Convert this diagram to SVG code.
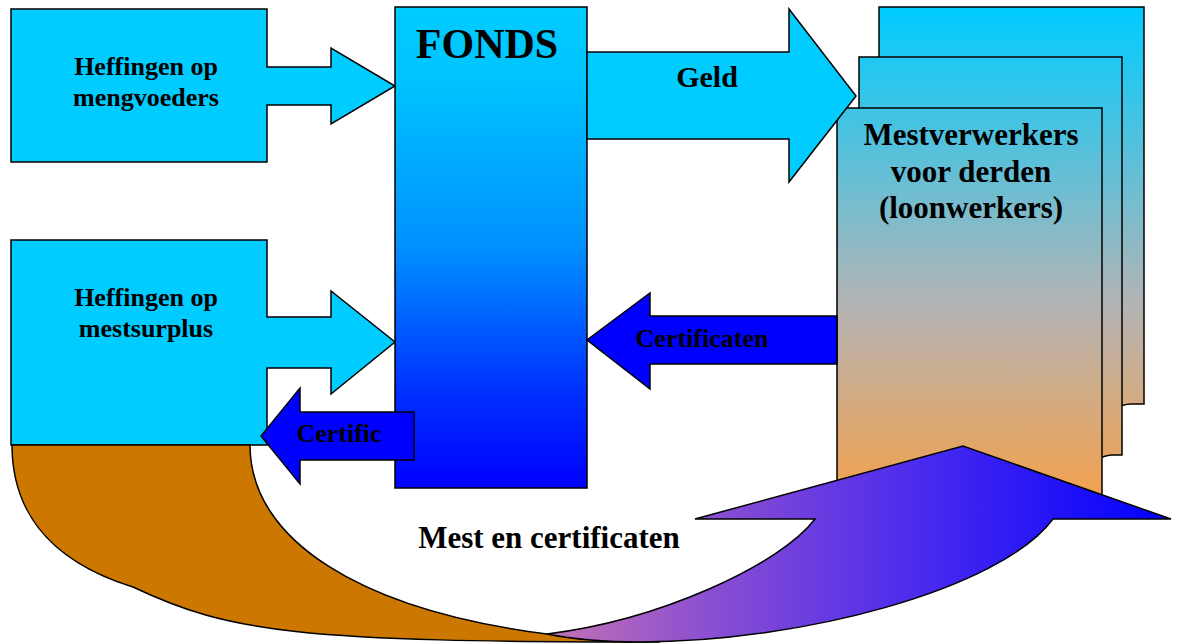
<svg xmlns="http://www.w3.org/2000/svg" width="1180" height="644" viewBox="0 0 1180 644">
  <defs>
    <linearGradient id="fondsFill" gradientUnits="userSpaceOnUse" x1="0" y1="7" x2="0" y2="488">
      <stop offset="0" stop-color="#00CCFF"/>
      <stop offset="0.15" stop-color="#00C4FF"/>
      <stop offset="0.5" stop-color="#0090FF"/>
      <stop offset="0.8" stop-color="#0030FF"/>
      <stop offset="1" stop-color="#0000FF"/>
    </linearGradient>
    <linearGradient id="pageFill" gradientUnits="userSpaceOnUse" x1="0" y1="7" x2="0" y2="505">
      <stop offset="0" stop-color="#00CCFF"/>
      <stop offset="0.6" stop-color="#B4B4B4"/>
      <stop offset="1" stop-color="#F5A04A"/>
    </linearGradient>
    <linearGradient id="returnFill" gradientUnits="userSpaceOnUse" x1="547" y1="0" x2="1171" y2="0">
      <stop offset="0" stop-color="#C472B4"/>
      <stop offset="0.25" stop-color="#8C50D0"/>
      <stop offset="0.6" stop-color="#4A2AEE"/>
      <stop offset="1" stop-color="#0000FF"/>
    </linearGradient>
  </defs>
  <style>
    .shape { stroke: #000; stroke-width: 1.5; stroke-linejoin: miter; }
    .cyan { fill: #00CCFF; }
    .blue { fill: #0000FF; }
    .lbl { font-family: "Liberation Serif", "Times New Roman", serif; font-weight: bold; fill: #000; text-anchor: middle; }
  </style>

  <!-- levy sources (box with arrow callout) -->
  <g id="heffingen-mengvoeders">
    <path class="shape cyan" d="M11,9 H267 V67 H331 V48 L395,86 L331,124 V105 H267 V162 H11 Z"/>
    <text class="lbl" x="146" y="75" font-size="26">Heffingen op</text>
    <text class="lbl" x="146" y="106" font-size="26">mengvoeders</text>
  </g>

  <g id="heffingen-mestsurplus">
    <path class="shape cyan" d="M11,240 H267 V317 H331 V291 L395,342 L331,394 V368 H267 V445 H11 Z"/>
    <text class="lbl" x="146" y="306" font-size="26">Heffingen op</text>
    <text class="lbl" x="146" y="337" font-size="26">mestsurplus</text>
  </g>

  <!-- central fund -->
  <g id="fonds">
    <rect class="shape" x="395" y="7" width="192" height="481" fill="url(#fondsFill)"/>
    <text class="lbl" x="487" y="58" font-size="42">FONDS</text>
  </g>

  <!-- processors: stacked documents -->
  <g id="mestverwerkers">
    <path class="shape" fill="url(#pageFill)" d="M879,7 H1144 V404 H1131 C1127,404 1124,405 1120,406 H879 Z"/>
    <path class="shape" fill="url(#pageFill)" d="M859,57 H1122 V455 H1112 C1108,455 1105,456 1100,458 H859 Z"/>
    <path class="shape" fill="url(#pageFill)" d="M837,108 H1102 V505 H837 Z"/>
    <text class="lbl" x="971" y="145" font-size="31">Mestverwerkers</text>
    <text class="lbl" x="971" y="182" font-size="31">voor derden</text>
    <text class="lbl" x="971" y="218" font-size="31">(loonwerkers)</text>
  </g>

  <!-- flows between the parties -->
  <g id="connectors">
    <g id="geld">
      <path class="shape cyan" d="M587,52 H789 V9 L856,96 L789,182 V139 H587 Z"/>
      <text class="lbl" x="707" y="87" font-size="30">Geld</text>
    </g>
    <g id="certificaten">
      <path class="shape blue" d="M837,316 H650 V293 L587,340 L650,389 V364 H837 Z"/>
      <text class="lbl" x="702" y="347" font-size="26">Certificaten</text>
    </g>
    <g id="certific">
      <path class="shape blue" d="M414,412 H300 V388 L261,436 L300,484 V460 H414 Z"/>
      <text class="lbl" x="339" y="442" font-size="26">Certific</text>
    </g>
    <g id="mest-en-certificaten">
      <!-- darker underside of the curved arrow -->
      <path class="shape" fill="#CC7700" d="M12,445 C12,505 43,559 133,587 C230,633 300,642 660,642 L547,634 C360,610 250,540 250,445 Z"/>
      <!-- front face of the curved arrow with head -->
      <path class="shape" fill="url(#returnFill)" d="M547,634 C660,620 780,565 815,519 L695,519 L963,446 L1171,519 L1053,519 C1000,590 800,642 640,642 C600,642 572,639 547,634 Z"/>
      <text class="lbl" x="549" y="548" font-size="31">Mest en certificaten</text>
    </g>
  </g>
</svg>
